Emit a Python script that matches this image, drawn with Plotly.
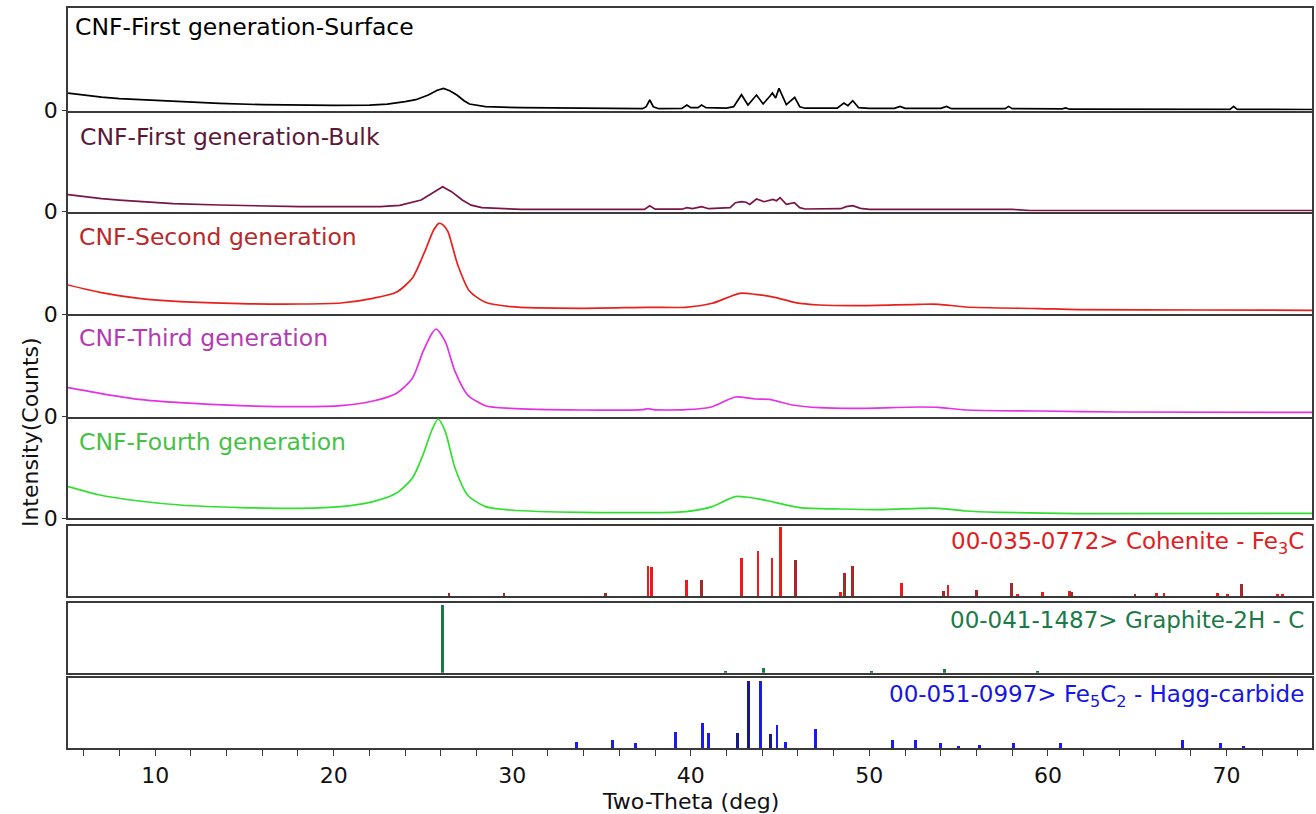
import plotly.graph_objects as go

# ---------------- data ----------------
# 2-theta window shown
TT_MIN, TT_MAX = 5.12, 74.79

# Measured XRD patterns (2-theta in deg, intensity in relative counts)
surface_tt = [5.12, 6.0, 7.0, 8.0, 9.1, 10.0, 11.5, 13.6, 16.0, 18.1, 20.0, 22.0, 23.0, 24.0,
              24.6, 25.3, 25.8, 26.15, 26.5, 26.9, 27.3, 27.6, 28.5, 30.5, 33.0, 35.0, 37.3,
              37.5, 37.7, 37.9, 38.2, 39.5, 39.78, 40.0, 40.4, 40.6, 40.85, 42.0, 42.4, 42.84,
              43.2, 43.68, 44.05, 44.45, 44.57, 44.75, 44.94, 45.35, 45.82, 46.1, 46.4, 48.2,
              48.57, 48.8, 49.07, 49.4, 50.0, 51.4, 51.72, 52.0, 54.0, 54.32, 54.6, 57.6, 57.8,
              58.0, 60.8, 61.0, 61.2, 70.2, 70.4, 70.6, 74.79]
surface_counts = [17.5, 15.5, 13.5, 12.0, 11.0, 10.0, 8.5, 7.3, 6.0, 5.3, 5.3, 5.6, 6.5, 9.0,
                  11.0, 15.7, 20.5, 22.3, 20.0, 15.7, 10.0, 6.7, 4.0, 3.0, 2.5, 2.3, 2.0,
                  4.0, 10.7, 4.0, 2.0, 2.3, 5.7, 3.0, 3.0, 5.7, 3.0, 2.5, 4.0, 16.0,
                  5.7, 15.7, 6.7, 15.0, 17.7, 12.7, 22.3, 6.0, 13.3, 4.0, 2.5, 2.5,
                  7.7, 5.0, 10.0, 3.0, 2.3, 2.3, 4.3, 2.3, 2.3, 4.3, 2.0, 2.0, 4.3,
                  2.0, 1.8, 2.7, 1.5, 1.3, 4.3, 1.3, 1.2]

bulk_tt = [5.12, 6.0, 7.0, 8.0, 9.1, 11.0, 13.6, 16.0, 18.1, 22.6, 23.7, 24.9, 25.5, 26.1,
           26.6, 27.2, 27.7, 28.3, 30.5, 37.4, 37.7, 38.0, 39.5, 39.78, 40.1, 40.6, 41.0,
           42.2, 42.5, 42.84, 43.1, 43.3, 43.68, 44.1, 44.6, 44.8, 45.0, 45.35, 45.8, 46.1,
           46.4, 48.4, 48.7, 49.07, 49.5, 50.0, 58.0, 59.0, 74.79]
bulk_counts = [17.0, 15.0, 13.0, 11.5, 10.0, 8.0, 6.7, 5.5, 5.0, 5.0, 6.3, 11.7, 18.0, 25.0,
               20.0, 11.7, 6.5, 4.0, 2.3, 2.3, 6.0, 2.5, 2.5, 4.0, 3.0, 5.0, 3.0,
               4.0, 9.0, 10.0, 9.5, 7.3, 12.7, 10.0, 12.3, 11.0, 14.0, 7.3, 9.0, 4.0,
               2.7, 3.0, 5.0, 6.0, 3.3, 2.3, 2.3, 1.2, 1.2]

second_tt = [5.12, 6.9, 9.1, 11.4, 14.8, 18.1, 20.4, 22.2, 23.5, 24.4, 25.1, 25.6, 25.9,
             26.15, 26.4, 26.95, 27.6, 28.5, 29.9, 33.9, 37.6, 39.7, 41.2, 42.75, 43.6,
             44.7, 45.85, 47.2, 49.4, 52.8, 53.9, 55.4, 59.5, 61.7, 68.4, 74.79]
second_counts = [29.3, 22.0, 16.0, 12.7, 10.7, 10.3, 11.3, 16.0, 22.0, 36.0, 62.7, 84.3, 91.0,
                 89.0, 82.7, 49.3, 23.3, 12.0, 7.7, 6.0, 7.0, 7.0, 11.0, 21.0, 20.0,
                 17.0, 11.7, 9.3, 8.7, 10.0, 10.0, 7.3, 5.7, 4.7, 4.3, 4.0]

third_tt = [5.12, 6.9, 9.1, 11.4, 14.8, 18.1, 20.4, 22.2, 23.5, 24.4, 25.0, 25.5, 25.75,
            26.25, 26.8, 27.5, 28.5, 29.9, 33.9, 37.3, 37.6, 37.9, 39.7, 41.2, 42.5, 43.6,
            44.4, 45.7, 47.2, 49.4, 52.8, 53.9, 55.4, 59.5, 63.9, 74.79]
third_counts = [29.0, 23.3, 17.3, 14.0, 11.0, 10.0, 11.0, 15.7, 23.3, 38.3, 65.0, 83.3, 87.7,
                75.0, 45.0, 21.7, 11.0, 8.3, 6.7, 7.0, 8.0, 7.0, 7.0, 10.0, 19.7, 17.7,
                17.3, 11.7, 9.0, 8.3, 9.7, 9.3, 6.7, 5.7, 4.7, 4.3]

fourth_tt = [5.12, 6.9, 9.1, 11.4, 14.8, 18.1, 20.4, 22.2, 23.5, 24.4, 25.0, 25.5, 25.85,
             26.25, 26.8, 27.5, 28.5, 29.9, 33.9, 39.7, 41.2, 42.5, 43.6, 44.7, 46.1, 48.4,
             50.6, 52.8, 53.9, 55.4, 57.2, 61.7, 74.79]
fourth_counts = [31.7, 23.3, 17.3, 13.3, 10.7, 10.0, 11.7, 16.7, 25.0, 40.0, 63.3, 88.3, 99.3,
                 86.7, 50.0, 23.3, 11.7, 8.3, 6.0, 6.7, 11.7, 21.7, 20.0, 16.0, 10.7, 9.3,
                 8.7, 10.0, 10.0, 7.3, 6.0, 4.7, 5.0]

# Reference stick patterns (2-theta, relative intensity %)
cohenite_tt = [26.46, 29.54, 35.23, 37.60, 37.79, 39.78, 40.62, 42.85, 43.76, 44.55, 45.01,
               45.85, 48.40, 48.62, 49.07, 51.80, 54.14, 54.40, 56.02, 57.97, 58.30, 59.70,
               61.20, 61.30, 64.88, 66.10, 66.50, 69.50, 70.06, 70.85, 72.86, 73.14]
cohenite_int = [4, 4, 4, 44, 42, 23, 23, 56, 66, 56, 100,
                52, 6, 33, 44, 19, 7, 16, 9, 19, 3, 6,
                7, 6, 2, 5, 5, 5, 3, 17, 3, 3]

graphite_tt = [26.10, 41.92, 44.08, 50.14, 54.20, 59.40]
graphite_int = [100, 2, 8, 2, 6, 2]

hagg_tt = [33.60, 35.61, 36.91, 39.15, 40.67, 41.00, 42.61, 43.22, 43.91, 44.44, 44.83, 45.29,
           46.97, 51.29, 52.60, 54.00, 54.98, 56.17, 58.09, 60.70, 67.56, 69.65, 70.95]
hagg_int = [8.5, 11, 6.5, 24, 37.5, 22, 22, 100, 100, 20, 33.5, 8.5,
            27.5, 11, 11, 7.5, 2.5, 4.5, 7.5, 7.5, 11, 7.5, 2.5]

x_tickvals = [10, 20, 30, 40, 50, 60, 70]

# ---------------- styling ----------------
FONT = "DejaVu Sans"
W, H = 1316, 814
M_L, M_R, M_T, M_B = 68, 2, 8, 66
PLOT_H = H - M_T - M_B
BOTTOM_PX = H - M_B

AXIS_COLOR = "#3a3a3a"

# pixel extents (top, bottom) of each panel
panel_px = [(8, 110.7), (110.7, 211.7), (211.7, 314.3), (314.3, 416.7), (416.7, 518.3),
            (526, 596), (602.7, 672.7), (678.3, 748)]

# shades used for individual sticks
cohenite_shade = ["d", "d", "d", "r", "r", "r", "d", "r", "r", "r", "r",
                  "d", "r", "d", "d", "r", "d", "r", "d", "d", "r", "r",
                  "r", "d", "d", "r", "r", "r", "r", "d", "r", "r"]
hagg_shade = ["n" if t in (42.61, 43.22, 44.44) else "b" for t in hagg_tt]


def ydom(top, bot):
    return [(BOTTOM_PX - bot) / PLOT_H, (BOTTOM_PX - top) / PLOT_H]


def px_to_paper_y(py):
    return (BOTTOM_PX - py) / PLOT_H


def px_to_paper_x(px):
    return (px - M_L) / (W - M_L - M_R)


fig = go.Figure()

curves = [
    (surface_tt, surface_counts, "#000000", "linear"),
    (bulk_tt, bulk_counts, "#7a1446", "linear"),
    (second_tt, second_counts, "#e8201c", "spline"),
    (third_tt, third_counts, "#e431e4", "spline"),
    (fourth_tt, fourth_counts, "#2fe02f", "spline"),
]
for i, (tt, cnt, col, shape) in enumerate(curves, start=1):
    line = dict(color=col, width=1.7, shape=shape)
    if shape == "spline":
        line["smoothing"] = 0.7
    fig.add_trace(go.Scatter(
        x=tt, y=cnt, mode="lines", line=line,
        xaxis="x" if i == 1 else f"x{i}", yaxis="y" if i == 1 else f"y{i}",
        showlegend=False, hoverinfo="skip"))

stick_sets = [
    (cohenite_tt, cohenite_int, ["#a8282a" if s == "d" else "#ee1a1a" for s in cohenite_shade], 6),
    (graphite_tt, graphite_int, ["#1b7a45"] * len(graphite_tt), 7),
    (hagg_tt, hagg_int, ["#18188c" if s == "n" else "#1a1af0" for s in hagg_shade], 8),
]
for tt, inten, cols, k in stick_sets:
    fig.add_trace(go.Bar(
        x=tt, y=inten, width=0.16,
        marker=dict(color=cols, line=dict(width=0)),
        xaxis=f"x{k}", yaxis=f"y{k}", showlegend=False, hoverinfo="skip"))

# y ranges: curve panels in their own count scale, stick panels in %
y_ranges = [[0, b - t] for t, b in panel_px[:5]] + [[0, 101.9], [0, 103.4], [0, 105.0]]

layout = dict(
    width=W, height=H,
    margin=dict(l=M_L, r=M_R, t=M_T, b=M_B),
    paper_bgcolor="white", plot_bgcolor="white",
    font=dict(family=FONT, size=22, color="#111111"),
    bargap=0,
)

for k in range(1, 9):
    xname = "xaxis" if k == 1 else f"xaxis{k}"
    yname = "yaxis" if k == 1 else f"yaxis{k}"
    yref = "y" if k == 1 else f"y{k}"
    is_last = k == 8
    xa = dict(
        domain=[0, 1], anchor=yref, range=[TT_MIN, TT_MAX],
        showgrid=False, zeroline=False,
        showline=True, linecolor=AXIS_COLOR, linewidth=1.5,
        # stacked pattern panels share their separating lines
        mirror=(k == 1 or k >= 6),
    )
    if k > 1:
        xa["matches"] = "x"
    if is_last:
        xa.update(
            tickmode="array", tickvals=x_tickvals, ticks="outside", ticklen=6,
            tickwidth=1.3, tickcolor=AXIS_COLOR, showticklabels=True,
            tickfont=dict(family=FONT, size=22, color="#111111"),
            ticklabelstandoff=1,
            minor=dict(dtick=2, ticks="outside", ticklen=6, tickwidth=1.3, tickcolor=AXIS_COLOR),
        )
    else:
        xa.update(showticklabels=False, ticks="")
    layout[xname] = xa

    ya = dict(
        domain=ydom(*panel_px[k - 1]), anchor="x" if k == 1 else f"x{k}",
        range=y_ranges[k - 1], showgrid=False, zeroline=False,
        showline=True, linecolor=AXIS_COLOR, linewidth=1.5, mirror=True,
        fixedrange=True,
    )
    if k <= 5:
        ya.update(tickmode="array", tickvals=[0], ticktext=["0"], ticks="outside",
                  ticklen=4, tickwidth=1.3, tickcolor=AXIS_COLOR,
                  tickfont=dict(family=FONT, size=22, color="#111111"))
    else:
        ya.update(showticklabels=False, ticks="")
    layout[yname] = ya

annotations = []
panel_labels = [
    ("CNF-First generation-Surface", "#000000", 73, 27),
    ("CNF-First generation-Bulk", "#5c1838", 78, 137),
    ("CNF-Second generation", "#b82a2a", 77, 237),
    ("CNF-Third generation", "#b43ab4", 77, 338),
    ("CNF-Fourth generation", "#45c245", 77, 442),
]
for text, col, px, py in panel_labels:
    annotations.append(dict(
        text=text, xref="paper", yref="paper",
        x=px_to_paper_x(px), y=px_to_paper_y(py), xanchor="left", yanchor="middle",
        showarrow=False, font=dict(family=FONT, size=23.5, color=col)))

ref_labels = [
    ("00-035-0772> Cohenite - Fe<sub>3</sub>C", "#e0201e", 543),
    ("00-041-1487> Graphite-2H - C", "#1b7a45", 620),
    ("00-051-0997> Fe<sub>5</sub>C<sub>2</sub> - Hagg-carbide", "#1515e6", 696),
]
for text, col, py in ref_labels:
    annotations.append(dict(
        text=text, xref="paper", yref="paper",
        x=px_to_paper_x(1308), y=px_to_paper_y(py), xanchor="right", yanchor="middle",
        showarrow=False, font=dict(family=FONT, size=23, color=col)))

annotations.append(dict(
    text="Two-Theta (deg)", xref="paper", yref="paper",
    x=px_to_paper_x(692), y=px_to_paper_y(801), xanchor="center", yanchor="middle",
    showarrow=False, font=dict(family=FONT, size=22, color="#111111")))
annotations.append(dict(
    text="Intensity(Counts)", xref="paper", yref="paper", textangle=-90,
    x=px_to_paper_x(31), y=px_to_paper_y(432), xanchor="center", yanchor="middle",
    showarrow=False, font=dict(family=FONT, size=22, color="#111111")))

layout["annotations"] = annotations
fig.update_layout(**layout)

fig.write_html("out.html")
